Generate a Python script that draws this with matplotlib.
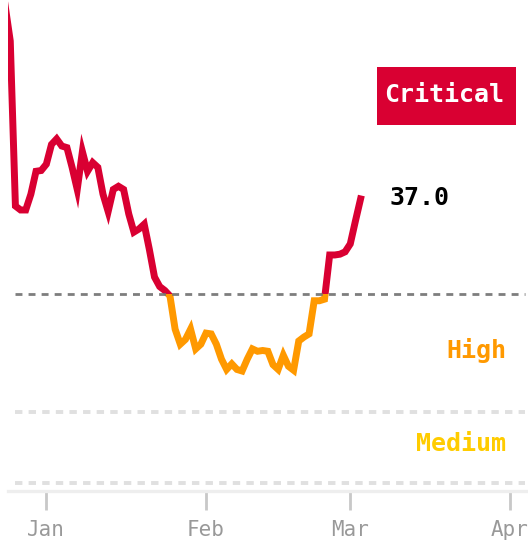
import numpy as np
import pandas as pd
import matplotlib
matplotlib.use('Agg')
import matplotlib.pyplot as plt
import matplotlib.dates as mdates
import matplotlib.transforms as mtransforms
from matplotlib.patches import Rectangle

# daily new cases per 100k (7-day avg)
start_date = '2020-12-24'
values = [61.5, 57.0, 36.1, 35.6, 35.6, 37.6, 40.5, 40.6, 41.4, 43.9,
          44.6, 43.7, 43.5, 41.0, 38.2, 43.0, 40.5, 41.6, 41.0, 37.6,
          35.4, 38.2, 38.6, 38.2, 35.1, 32.8, 33.2, 33.8, 30.6, 27.1,
          25.9, 25.4, 24.7, 20.5, 18.6, 19.2, 20.5, 18.0, 18.6, 20.0,
          19.9, 18.6, 16.7, 15.4, 16.1, 15.4, 15.2, 16.7, 18.0, 17.7,
          17.8, 17.7, 16.0, 15.4, 17.2, 15.8, 15.3, 19.0, 19.5, 19.9,
          24.1, 24.1, 24.3, 29.9, 29.9, 30.0, 30.3, 31.3, 34.2, 37.0]
dates = pd.date_range(start_date, periods=len(values), freq='D')

level_lines = [1, 10, 25]
level_names = ['Medium', 'High', 'Critical']
month_ticks = ['2021-01-01', '2021-02-01', '2021-03-01', '2021-04-01']
month_labels = ['Jan', 'Feb', 'Mar', 'Apr']

RED = '#d90032'
ORANGE = '#ff9900'
GOLD = '#ffcc00'
MONO = 'DejaVu Sans Mono'


def main():
    fig = plt.figure(figsize=(5.28, 5.47), dpi=100)
    ax = fig.add_axes([8 / 528, 56 / 547, 520 / 528, 491 / 547])

    jan1 = pd.Timestamp('2021-01-01')
    ax.set_xlim(jan1 - pd.Timedelta(days=7.44), jan1 + pd.Timedelta(days=93.5))
    ax.set_ylim(0, 62.2)

    # threshold lines
    ax.axhline(level_lines[0], xmin=0.013, xmax=0.995, color='#e0e0e0', lw=2.8,
               dashes=(1.9, 1.6), zorder=1)
    ax.axhline(level_lines[1], xmin=0.013, xmax=0.995, color='#e0e0e0', lw=2.8,
               dashes=(1.9, 1.6), zorder=1)

    # line split in colour at the critical threshold
    trans = mtransforms.blended_transform_factory(ax.transAxes, ax.transData)
    above = Rectangle((0, level_lines[2]), 1, 100, transform=trans)
    below = Rectangle((0, -10), 1, level_lines[2] + 10, transform=trans)
    l1, = ax.plot(dates, values, color=RED, lw=5, solid_joinstyle='miter', zorder=2)
    l1.set_clip_path(above)
    l2, = ax.plot(dates, values, color=ORANGE, lw=5, solid_joinstyle='miter', zorder=2)
    l2.set_clip_path(below)

    ax.axhline(level_lines[2], xmin=0.013, xmax=0.995, color='#707070', lw=2,
               dashes=(2.5, 2.2), alpha=0.9, zorder=3)

    # level labels
    ax.text(0.958, 17.8, level_names[1], transform=trans, ha='right', va='center',
            color=ORANGE, fontsize=18, fontweight='bold', family=MONO)
    ax.text(0.958, 5.9, level_names[0], transform=trans, ha='right', va='center',
            color=GOLD, fontsize=18, fontweight='bold', family=MONO)
    ax.add_patch(Rectangle((0.7096, 0.745), 0.267, 0.1185, transform=ax.transAxes,
                           facecolor=RED, edgecolor='none', clip_on=False, zorder=4))
    ax.text(0.9545, 0.806, level_names[2], transform=ax.transAxes, ha='right',
            va='center', color='white', fontsize=18, fontweight='bold',
            family=MONO, zorder=5)

    # last value
    ax.annotate(f'{values[-1]:.1f}', (dates[-1], values[-1]), xytext=(21, 1),
                textcoords='offset points', ha='left', va='center',
                color='black', fontsize=18, fontweight='bold', family=MONO)

    # axes styling
    for s in ['left', 'top', 'right']:
        ax.spines[s].set_visible(False)
    ax.spines['bottom'].set_color('#eeeeee')
    ax.spines['bottom'].set_linewidth(2.4)
    ax.set_yticks([])
    ax.set_xticks(pd.to_datetime(month_ticks))
    ax.set_xticklabels(month_labels)
    ax.tick_params(axis='x', length=14, width=2, color='#c8c8c8', pad=7,
                   labelsize=15, labelcolor='#999999')
    for lab in ax.get_xticklabels():
        lab.set_family(MONO)

    fig.savefig('out.png', dpi=100)


if __name__ == '__main__':
    main()
